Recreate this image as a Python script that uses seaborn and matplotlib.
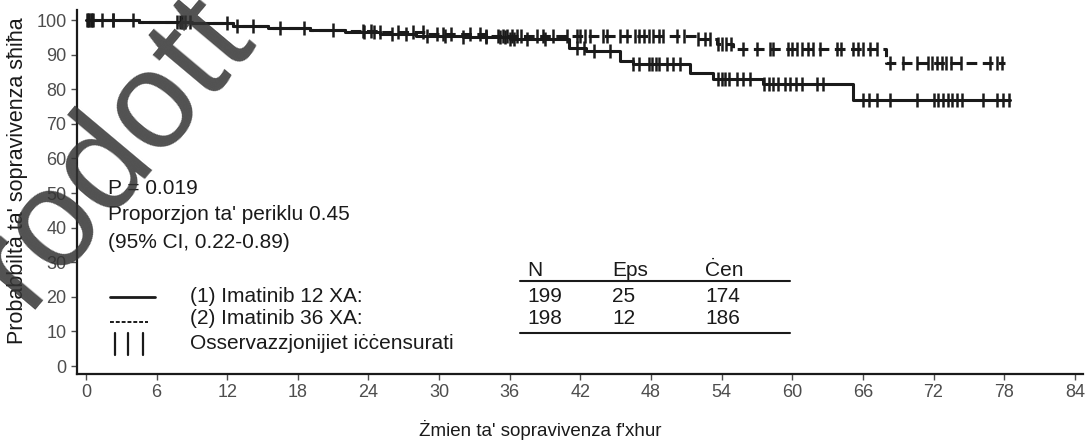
import numpy as np
import pandas as pd
import matplotlib
matplotlib.use("Agg")
import matplotlib.pyplot as plt
import seaborn as sns

# Kaplan-Meier step values (months, % surviving)
t_12 = [0, 4.5, 9, 12.5, 15.5, 19, 22, 25, 28, 32, 36, 41, 42.5, 45.4, 46.5, 51.3, 53.3, 57.5, 65.2, 78.5]
s_12 = [100, 99.5, 99, 98.4, 97.7, 97.2, 96.6, 96, 95.5, 95, 94.6, 92, 91, 88.2, 87.3, 84.7, 83, 81.5, 77, 77]

t_36 = [0, 4.5, 9, 12.5, 15.5, 19, 22, 25, 29, 34, 51.9, 53.6, 55, 68, 78.1]
s_36 = [100, 99.5, 99, 98.4, 97.7, 97.2, 96.8, 96.4, 96, 95.5, 94.5, 93, 91.6, 87.6, 87.6]

# censored observations (months)
cens_12 = [0.2, 0.4, 0.6, 1.4, 2.3, 8.0, 8.4, 12.0, 14.2, 18.5, 23.6, 24.5, 26.0, 27.2, 29.0,
           30.5, 32.0, 34.0, 35.2, 35.6, 36.0, 36.4, 37.5, 39.0, 41.7, 42.3, 43.2, 44.5, 46.5,
           47.0, 47.8, 48.1, 48.4, 48.7, 49.4, 49.9, 50.5, 53.7, 54.0, 54.3, 54.6, 55.3, 55.8,
           56.4, 57.6, 58.0, 58.4, 58.8, 59.4, 59.8, 60.3, 60.8, 62.1, 62.6, 66.0, 66.5, 67.2,
           68.3, 70.6, 72.0, 72.4, 72.8, 73.2, 73.6, 74.0, 74.4, 76.2, 77.4, 77.9, 78.4]
cens_36 = [0.1, 0.3, 0.5, 2.3, 4.0, 7.7, 8.2, 8.8, 12.8, 16.5, 21.0, 23.5, 24.2, 25.0, 26.5,
           27.8, 28.6, 29.8, 30.3, 31.0, 32.6, 33.5, 34.0, 35.0, 35.4, 35.8, 36.2, 36.6, 37.0,
           38.3, 38.8, 39.7, 40.9, 41.7, 42.0, 42.4, 42.8, 43.9, 44.3, 45.4, 46.0, 46.6, 47.0,
           47.4, 47.8, 48.2, 48.7, 49.0, 50.2, 50.8, 52.0, 52.6, 53.0, 53.7, 54.0, 54.4, 54.8,
           55.8, 57.0, 58.1, 58.4, 59.6, 60.0, 60.4, 60.8, 61.3, 61.8, 62.4, 63.8, 64.1, 65.2,
           65.6, 66.0, 66.6, 67.2, 68.3, 69.4, 70.6, 71.5, 71.9, 72.3, 72.7, 73.1, 73.5, 74.3,
           76.8, 77.4, 77.8]

table_cols = ["N", "Eps", "Ċen"]
table_rows = [["199", "25", "174"], ["198", "12", "186"]]
arm_labels = ["(1) Imatinib 12 XA:", "(2) Imatinib 36 XA:", "Osservazzjonijiet iċċensurati"]

sns.set_theme(style="ticks")
plt.rcParams["font.family"] = ["Liberation Sans", "DejaVu Sans"]

fig = plt.figure(figsize=(10.87, 4.41), dpi=100)
ax = fig.add_axes([77/1087, 1-374/441, 1006/1087, 364/441])

def step_val(times, surv, c):
    idx = np.searchsorted(times, c, side="right") - 1
    return np.array(surv)[idx]

d12 = pd.DataFrame({"t": t_12, "s": s_12})
d36 = pd.DataFrame({"t": t_36, "s": s_36})
sns.lineplot(data=d12, x="t", y="s", drawstyle="steps-post", color="#1a1a1a", lw=2.2, ax=ax,
             estimator=None, sort=False)
sns.lineplot(data=d36, x="t", y="s", drawstyle="steps-post", color="#1a1a1a", lw=2.2, ax=ax,
             estimator=None, sort=False, linestyle=(0, (3.5, 1.8)))

c12 = pd.DataFrame({"t": cens_12, "s": step_val(t_12, s_12, cens_12)})
c36 = pd.DataFrame({"t": cens_36, "s": step_val(t_36, s_36, cens_36)})
for c in (c12, c36):
    sns.scatterplot(data=c, x="t", y="s", marker="|", s=90, linewidth=1.8, color="#1a1a1a", ax=ax)

ax.set_xlim(-0.76, 84.7)
ax.set_ylim(-2.3, 102.9)
ax.set_xticks(np.arange(0, 85, 6))
ax.set_yticks(np.arange(0, 101, 10))
sns.despine(ax=ax)
for sp in ("left", "bottom"):
    ax.spines[sp].set_linewidth(1.6)
    ax.spines[sp].set_color("#1a1a1a")
ax.tick_params(labelsize=13, colors="#4d4d4d", length=4, width=1)

ax.set_xlabel("Żmien ta' sopravivenza f'xhur", fontsize=13.5, color="#1a1a1a")
ax.set_ylabel("Probabbiltà ta' sopravivenza sħiħa", fontsize=15.5, color="#1a1a1a")
ax.xaxis.set_label_coords(0.46, -0.126)
ax.yaxis.set_label_coords(-0.049, 0.53)

fs = 15
ax.text(1.87, 51.4, "P = 0.019", fontsize=fs, va="center", color="#1a1a1a")
ax.text(1.87, 43.9, "Proporzjon ta' periklu 0.45", fontsize=fs, va="center", color="#1a1a1a")
ax.text(1.87, 35.8, "(95% CI, 0.22-0.89)", fontsize=fs, va="center", color="#1a1a1a")

# legend drawn by hand
ax.plot([2.04, 5.86], [19.9, 19.9], color="#1a1a1a", lw=2)
ax.plot([2.04, 5.27], [12.7, 12.7], color="#1a1a1a", lw=1.4, linestyle=(0, (2, 1)))
for xb in (2.46, 3.57, 4.84):
    ax.plot([xb, xb], [3.2, 9.5], color="#1a1a1a", lw=1.6)
for lab, yy in zip(arm_labels, [20.2, 13.6, 6.6]):
    ax.text(8.83, yy, lab, fontsize=fs, va="center", color="#1a1a1a")

# N / Eps / Cen table
col_x = [37.46, 44.7, 52.6]
for cx, lab in zip(col_x, table_cols):
    ax.text(cx, 27.7, lab, fontsize=fs, va="center", color="#1a1a1a")
ax.plot([36.9, 59.8], [24.6, 24.6], color="#1a1a1a", lw=1.5)
for row, yy in zip(table_rows, [20.2, 13.6]):
    for cx, v in zip(col_x, row):
        ax.text(cx, yy, v, fontsize=fs, va="center", color="#1a1a1a")
ax.plot([36.9, 59.8], [9.5, 9.5], color="#1a1a1a", lw=1.5)

# watermark
fig.text(-33/1087, 1-378/441, "Prodott", fontsize=100,
         rotation=50, rotation_mode="anchor", ha="left", va="baseline",
         color="#333333", alpha=0.85)

fig.savefig("out.png", dpi=100)
